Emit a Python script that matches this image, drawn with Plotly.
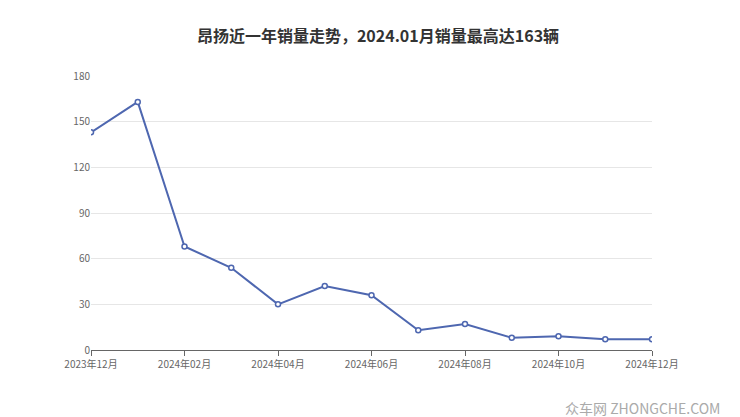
import plotly.graph_objects as go

months = ["2023年12月", "2024年01月", "2024年02月", "2024年03月", "2024年04月", "2024年05月",
          "2024年06月", "2024年07月", "2024年08月", "2024年09月", "2024年10月", "2024年11月", "2024年12月"]
sales = [143, 163, 68, 54, 30, 42, 36, 13, 17, 8, 9, 7, 7]

idx = list(range(len(months)))
fig = go.Figure()
fig.add_trace(go.Scatter(
    x=idx, y=sales, mode="lines+markers",
    line=dict(color="#4e67b0", width=2),
    marker=dict(size=5, color="white", line=dict(color="#4e67b0", width=1.5)),
    customdata=months, hovertemplate="%{customdata}: %{y}<extra></extra>",
))

fig.update_layout(
    width=740, height=417,
    paper_bgcolor="white", plot_bgcolor="white",
    margin=dict(l=83, r=96, t=68, b=75),
    showlegend=False,
    font=dict(family="Noto Sans CJK SC", color="#666", size=11),
    title=dict(text="<b>昂扬近一年销量走势，2024.01月销量最高达163辆</b>", x=0.5, y=0.945,
               xanchor="center", font=dict(size=16, color="#333")),
    xaxis=dict(range=[0, 12], tickmode="array", tickvals=idx[::2], ticktext=months[::2],
               showgrid=False, showline=True, linecolor="#666", ticks="outside",
               ticklen=5, tickcolor="#666", zeroline=False, tickfont=dict(size=10)),
    yaxis=dict(range=[0, 180], tickvals=[0, 30, 60, 90, 120, 150, 180],
               gridcolor="#e6e6e6", zeroline=False, showline=False,
               ticksuffix="  ", tickfont=dict(size=10)),
    annotations=[dict(text="众车网 ZHONGCHE.COM", x=1, y=0, xref="paper", yref="paper",
                      xanchor="right", yanchor="bottom", xshift=70, yshift=-70,
                      showarrow=False, font=dict(size=14, color="#aaa"))],
)
fig.write_html("out.html")
